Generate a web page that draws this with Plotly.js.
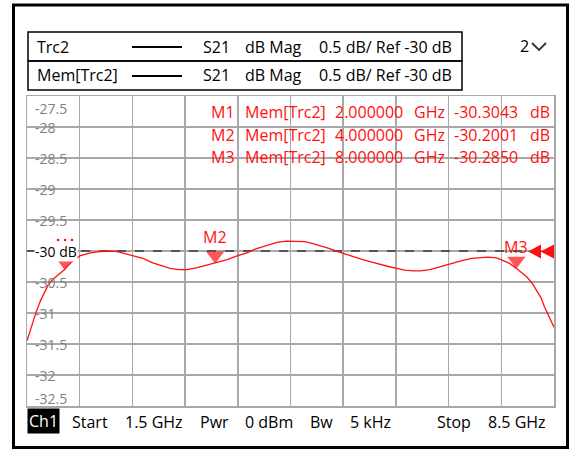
<!DOCTYPE html>
<html><head><meta charset="utf-8">
<script src="https://cdn.plot.ly/plotly-3.0.1.min.js"></script>
<style>html,body{margin:0;padding:0;background:#fff}#chart{width:569px;height:449px}</style>
</head><body><div id="chart"></div>
<script>
// ---- data ----
const freqGHz = [1.5,1.56,1.62,1.68,1.73,1.78,1.84,1.9,1.95,2.0,2.05,2.1,2.2,2.34,2.47,2.6,2.7,2.8,2.91,3.04,3.17,3.29,3.4,3.51,3.63,3.76,3.89,4.0,4.16,4.29,4.42,4.55,4.69,4.82,4.95,5.09,5.19,5.3,5.42,5.52,5.63,5.75,5.86,5.96,6.08,6.19,6.3,6.41,6.52,6.63,6.73,6.85,6.96,7.08,7.19,7.29,7.41,7.52,7.62,7.74,7.82,7.91,8.0,8.08,8.14,8.21,8.28,8.33,8.37,8.43,8.47,8.5];
const s21dB   = [-31.45,-31.2,-30.99,-30.8,-30.66,-30.55,-30.46,-30.4,-30.34,-30.3,-30.23,-30.17,-30.08,-30.03,-30.01,-30.0,-30.01,-30.04,-30.07,-30.12,-30.19,-30.24,-30.28,-30.3,-30.3,-30.27,-30.23,-30.2,-30.14,-30.08,-30.03,-29.96,-29.91,-29.86,-29.84,-29.84,-29.85,-29.88,-29.92,-29.96,-30.01,-30.06,-30.1,-30.14,-30.18,-30.22,-30.25,-30.28,-30.31,-30.32,-30.32,-30.3,-30.26,-30.22,-30.18,-30.15,-30.12,-30.11,-30.1,-30.11,-30.15,-30.2,-30.28,-30.36,-30.42,-30.52,-30.65,-30.76,-30.89,-31.05,-31.15,-31.23];
const markerNames   = ['M1','M2','M3'];
const markerFreqGHz = [2.0, 4.0, 8.0];
const markerValdB   = [-30.3043, -30.2001, -30.2850];
const markerTrace   = 'Mem[Trc2]';
const yTickVals = [-27.5,-28,-28.5,-29,-29.5,-30,-30.5,-31,-31.5,-32,-32.5];
const yTickText = ['-27.5','-28','-28.5','-29','-29.5','-30 dB','-30.5','-31','-31.5','-32','-32.5'];
const refLevel  = -30;
const xRange = [1.5, 8.5];
const yRange = [-32.5, -27.5];
const headerNames = ['Trc2','Mem[Trc2]'];
const headerParam = 'S21';
const headerFormat = 'dB Mag';
const headerScale = '0.5 dB/ Ref -30 dB';
const channelLabel = 'Ch1';
const channelInfo = ['Start','1.5 GHz','Pwr','0 dBm','Bw','5 kHz','Stop','8.5 GHz'];

// ---- layout helpers (pixel -> paper) ----
const W=569,H=449,L=27,R=554,T=96,B=406;
const px=x=>(x-L)/(R-L), py=y=>(B-y)/(B-T);
const FONT='"Open Sans", "Noto Sans", sans-serif';
const RED='#ff1010', GRID='#a8a8a8';

const traces = [
  // reference level (dashed), below the measured trace
  {x:xRange,y:[refLevel,refLevel],type:'scatter',mode:'lines',line:{color:'#000',width:1,dash:'dash'},hoverinfo:'skip'},
  {x:freqGHz,y:s21dB,type:'scatter',mode:'lines',line:{color:RED,width:1.3},hoverinfo:'skip'},
];
// marker triangles: tip on the data point (plotly triangle tip is size/2 below centre)
const mSizes=[12,16,16];
const dbPerPx=(yRange[1]-yRange[0])/(B-T);
traces.push({x:markerFreqGHz,y:markerValdB.map((v,i)=>v+(mSizes[i]/2)*dbPerPx),type:'scatter',mode:'markers',
  marker:{symbol:'triangle-down',size:mSizes,color:RED,line:{width:0}},cliponaxis:false,hoverinfo:'skip'});

const ann=[];
const A=(o)=>ann.push(Object.assign({showarrow:false,xanchor:'left',yanchor:'middle',font:{family:FONT,size:16,color:'#000'}},o));
const shapes=[];
// y labels (white box behind, above grid but below trace)
const cw=(s,size)=>{let w=0;for(const c of s){w+=(/[0-9]/.test(c)?0.572:c==='.'?0.267:c==='-'?0.322:c===' '?0.26:c==='d'?0.614:c==='B'?0.632:0.6);}return w*size;};
yTickVals.forEach((v,i)=>{
  let ys=0; if(i===0) ys=-12; if(i===yTickVals.length-1) ys=8;
  const isRef = v===refLevel;
  const w=cw(yTickText[i],14);
  const yc=(B-T)*(v-yRange[0])/(yRange[1]-yRange[0]);
  const cy=B-yc-ys;
  if(!isRef) shapes.push({type:'rect',xref:'paper',yref:'paper',x0:px(34),x1:px(36+w),y0:py(cy+7),y1:py(cy-7),
    fillcolor:'#fff',line:{width:0},layer:'between'});
  A({xref:'paper',yref:'y',x:px(34),y:v,yshift:ys,text:yTickText[i],borderpad:0,bgcolor:isRef?'#fff':'rgba(0,0,0,0)',
     font:{family:FONT,size:14,color:isRef?'#000':'#7f7f7f'}});
});
// truncated M1 label: three small red dots
[58,65,72].forEach(x=>shapes.push({type:'circle',xref:'paper',yref:'paper',x0:px(x-1.3),x1:px(x+1.3),y0:py(241.3),y1:py(238.7),
  fillcolor:RED,line:{width:0}}));
// marker labels near markers
A({xref:'x',yref:'y',x:markerFreqGHz[1],y:markerValdB[1],yshift:26,xanchor:'center',text:markerNames[1],font:{family:FONT,size:16,color:RED}});
A({xref:'x',yref:'y',x:markerFreqGHz[2],y:markerValdB[2],yshift:22,xanchor:'center',text:markerNames[2],font:{family:FONT,size:16,color:RED}});
// marker table
const rowsY=[112,134.5,157];
markerNames.forEach((n,i)=>{
  const yy=py(rowsY[i]);
  const red={family:FONT,size:16,color:RED};
  A({xref:'paper',yref:'paper',x:px(209),y:yy,text:n,font:red});
  A({xref:'paper',yref:'paper',x:px(243),y:yy,text:markerTrace,font:red});
  A({xref:'paper',yref:'paper',x:px(405),y:yy,xanchor:'right',text:markerFreqGHz[i].toFixed(6),font:red});
  A({xref:'paper',yref:'paper',x:px(412),y:yy,text:'GHz',font:red});
  A({xref:'paper',yref:'paper',x:px(520),y:yy,xanchor:'right',text:markerValdB[i].toFixed(4),font:red});
  A({xref:'paper',yref:'paper',x:px(528),y:yy,text:'dB',font:red});
});
// header
const hy=[46.5,75.5];
headerNames.forEach((n,i)=>{
  const yy=py(hy[i]);
  A({xref:'paper',yref:'paper',x:px(35),y:yy,text:n});
  A({xref:'paper',yref:'paper',x:px(201),y:yy,text:headerParam});
  A({xref:'paper',yref:'paper',x:px(243),y:yy,text:headerFormat});
  A({xref:'paper',yref:'paper',x:px(317),y:yy,text:headerScale});
});
A({xref:'paper',yref:'paper',x:px(518),y:py(46),text:'2'});
// footer
A({xref:'paper',yref:'paper',x:px(27),y:py(421),text:channelLabel,bgcolor:'#000',borderpad:1,
   font:{family:FONT,size:16,color:'#fff'}});
const fx=[70,123,198,243,308,348,435,486];
channelInfo.forEach((t,i)=>A({xref:'paper',yref:'paper',x:px(fx[i]),y:py(422),text:t}));

const P=(x,y)=>px(x).toFixed(5)+','+py(y).toFixed(5);
shapes.push(
  {type:'rect',xref:'paper',yref:'paper',x0:px(13.5),x1:px(567.5),y0:py(447.5),y1:py(5),line:{color:'#000',width:3}},
  {type:'rect',xref:'paper',yref:'paper',x0:px(28),x1:px(462),y0:py(61),y1:py(32),line:{color:'#000',width:1.5}},
  {type:'rect',xref:'paper',yref:'paper',x0:px(28),x1:px(462),y0:py(90),y1:py(61),line:{color:'#000',width:1.5}},
  {type:'line',xref:'paper',yref:'paper',x0:px(132),x1:px(182),y0:py(47),y1:py(47),line:{color:'#000',width:2}},
  {type:'line',xref:'paper',yref:'paper',x0:px(132),x1:px(182),y0:py(76),y1:py(76),line:{color:'#000',width:2}},
  {type:'path',xref:'paper',yref:'paper',path:'M'+P(532,43)+' L'+P(539,50)+' L'+P(546,43),line:{color:'#333',width:1.8}},
  {type:'path',xref:'paper',yref:'paper',path:'M'+P(528,251.5)+' L'+P(541,244.5)+' L'+P(541,258.5)+' Z',fillcolor:RED,line:{color:RED,width:0}},
  {type:'path',xref:'paper',yref:'paper',path:'M'+P(540.5,251.5)+' L'+P(554,244.5)+' L'+P(554,258.5)+' Z',fillcolor:RED,line:{color:RED,width:0}}
);

const layout={
  width:W,height:H,margin:{l:L,r:W-R,t:T,b:H-B,pad:0},
  paper_bgcolor:'#fff',plot_bgcolor:'#fff',showlegend:false,
  xaxis:{range:xRange,tick0:1.5,dtick:0.7,showticklabels:false,ticks:'',showgrid:true,gridcolor:GRID,gridwidth:1.5,
         zeroline:false,showline:true,mirror:true,linecolor:GRID,linewidth:1.5,fixedrange:true},
  yaxis:{range:yRange,tick0:-32.5,dtick:0.5,showticklabels:false,ticks:'',showgrid:true,gridcolor:GRID,gridwidth:1.5,
         zeroline:false,showline:true,mirror:true,linecolor:GRID,linewidth:1.5,fixedrange:true},
  annotations:ann,shapes:shapes,font:{family:FONT}
};
Plotly.newPlot('chart',traces,layout,{displayModeBar:false,staticPlot:true});
</script></body></html>
